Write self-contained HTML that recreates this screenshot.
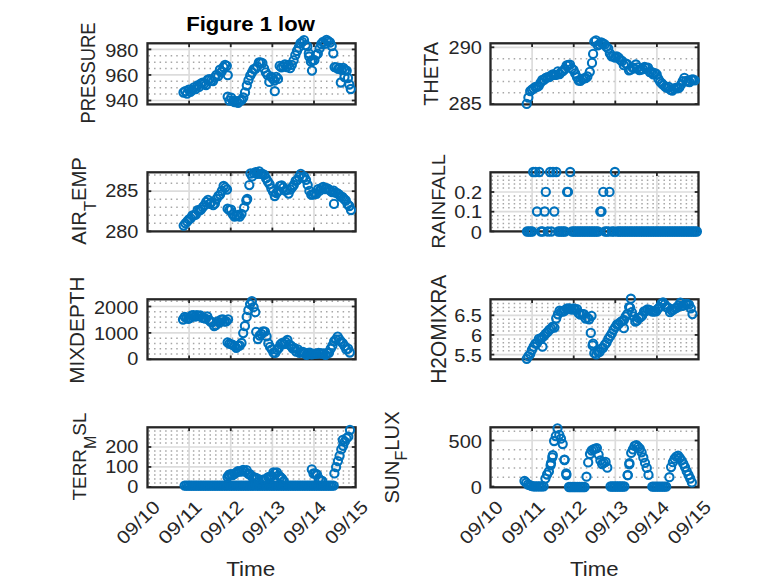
<!DOCTYPE html>
<html><head><meta charset="utf-8"><style>
html,body{margin:0;padding:0;width:778px;height:583px;overflow:hidden;background:#fff}
svg text{font-family:"Liberation Sans", sans-serif}
</style></head><body>
<svg width="778" height="583" viewBox="0 0 778 583" style="position:absolute;left:0;top:0"><rect width="778" height="583" fill="#fff"/><g><line x1="148.50" y1="94.11" x2="354.60" y2="94.11" stroke="#a6a6a6" stroke-width="1.5" stroke-dasharray="1.5 4.047"/><line x1="148.50" y1="87.72" x2="354.60" y2="87.72" stroke="#a6a6a6" stroke-width="1.5" stroke-dasharray="1.5 4.047"/><line x1="148.50" y1="81.34" x2="354.60" y2="81.34" stroke="#a6a6a6" stroke-width="1.5" stroke-dasharray="1.5 4.047"/><line x1="148.50" y1="68.56" x2="354.60" y2="68.56" stroke="#a6a6a6" stroke-width="1.5" stroke-dasharray="1.5 4.047"/><line x1="148.50" y1="62.17" x2="354.60" y2="62.17" stroke="#a6a6a6" stroke-width="1.5" stroke-dasharray="1.5 4.047"/><line x1="148.50" y1="55.79" x2="354.60" y2="55.79" stroke="#a6a6a6" stroke-width="1.5" stroke-dasharray="1.5 4.047"/><line x1="147.50" y1="100.50" x2="355.60" y2="100.50" stroke="#dcdcdc" stroke-width="1.7"/><line x1="147.50" y1="74.95" x2="355.60" y2="74.95" stroke="#dcdcdc" stroke-width="1.7"/><line x1="147.50" y1="49.40" x2="355.60" y2="49.40" stroke="#dcdcdc" stroke-width="1.7"/><line x1="189.12" y1="43.30" x2="189.12" y2="104.40" stroke="#dcdcdc" stroke-width="1.7"/><line x1="230.74" y1="43.30" x2="230.74" y2="104.40" stroke="#dcdcdc" stroke-width="1.7"/><line x1="272.36" y1="43.30" x2="272.36" y2="104.40" stroke="#dcdcdc" stroke-width="1.7"/><line x1="313.98" y1="43.30" x2="313.98" y2="104.40" stroke="#dcdcdc" stroke-width="1.7"/><line x1="147.50" y1="100.50" x2="151.30" y2="100.50" stroke="#262626" stroke-width="1.8"/><line x1="351.80" y1="100.50" x2="355.60" y2="100.50" stroke="#262626" stroke-width="1.8"/><line x1="147.50" y1="74.95" x2="151.30" y2="74.95" stroke="#262626" stroke-width="1.8"/><line x1="351.80" y1="74.95" x2="355.60" y2="74.95" stroke="#262626" stroke-width="1.8"/><line x1="147.50" y1="49.40" x2="151.30" y2="49.40" stroke="#262626" stroke-width="1.8"/><line x1="351.80" y1="49.40" x2="355.60" y2="49.40" stroke="#262626" stroke-width="1.8"/><line x1="189.12" y1="43.30" x2="189.12" y2="47.10" stroke="#262626" stroke-width="1.8"/><line x1="189.12" y1="100.60" x2="189.12" y2="104.40" stroke="#262626" stroke-width="1.8"/><line x1="230.74" y1="43.30" x2="230.74" y2="47.10" stroke="#262626" stroke-width="1.8"/><line x1="230.74" y1="100.60" x2="230.74" y2="104.40" stroke="#262626" stroke-width="1.8"/><line x1="272.36" y1="43.30" x2="272.36" y2="47.10" stroke="#262626" stroke-width="1.8"/><line x1="272.36" y1="100.60" x2="272.36" y2="104.40" stroke="#262626" stroke-width="1.8"/><line x1="313.98" y1="43.30" x2="313.98" y2="47.10" stroke="#262626" stroke-width="1.8"/><line x1="313.98" y1="100.60" x2="313.98" y2="104.40" stroke="#262626" stroke-width="1.8"/><rect x="147.50" y="43.30" width="208.10" height="61.10" fill="none" stroke="#262626" stroke-width="2.3"/><text transform="translate(105.19,107.41) scale(1.09,1)" font-size="18.3" fill="#262626">940</text><text transform="translate(105.19,81.86) scale(1.09,1)" font-size="18.3" fill="#262626">960</text><text transform="translate(105.19,56.51) scale(1.09,1)" font-size="18.3" fill="#262626">980</text><text transform="translate(94.80,123.57) rotate(-90) scale(0.8802,1)" font-size="20.86" fill="#262626">PRESSURE</text><g fill="none" stroke="#0072BD" stroke-width="2.1"><circle cx="183.5" cy="92.5" r="4.1"/><circle cx="185.2" cy="91.1" r="4.1"/><circle cx="187.0" cy="93.7" r="4.1"/><circle cx="188.7" cy="89.7" r="4.1"/><circle cx="190.4" cy="91.8" r="4.1"/><circle cx="192.2" cy="90.0" r="4.1"/><circle cx="193.9" cy="87.4" r="4.1"/><circle cx="195.6" cy="89.2" r="4.1"/><circle cx="197.4" cy="85.5" r="4.1"/><circle cx="199.1" cy="86.9" r="4.1"/><circle cx="200.8" cy="83.7" r="4.1"/><circle cx="202.6" cy="82.7" r="4.1"/><circle cx="204.3" cy="83.7" r="4.1"/><circle cx="206.0" cy="85.0" r="4.1"/><circle cx="207.8" cy="79.7" r="4.1"/><circle cx="209.5" cy="79.2" r="4.1"/><circle cx="211.2" cy="80.4" r="4.1"/><circle cx="213.0" cy="81.1" r="4.1"/><circle cx="214.7" cy="77.4" r="4.1"/><circle cx="216.4" cy="74.8" r="4.1"/><circle cx="218.2" cy="76.1" r="4.1"/><circle cx="219.9" cy="69.7" r="4.1"/><circle cx="221.6" cy="71.7" r="4.1"/><circle cx="223.4" cy="67.1" r="4.1"/><circle cx="225.1" cy="64.8" r="4.1"/><circle cx="226.8" cy="65.8" r="4.1"/><circle cx="227.7" cy="96.7" r="4.1"/><circle cx="229.4" cy="100.6" r="4.1"/><circle cx="231.2" cy="97.7" r="4.1"/><circle cx="232.9" cy="101.0" r="4.1"/><circle cx="234.6" cy="102.1" r="4.1"/><circle cx="236.4" cy="101.1" r="4.1"/><circle cx="238.1" cy="102.9" r="4.1"/><circle cx="239.8" cy="100.7" r="4.1"/><circle cx="241.6" cy="100.0" r="4.1"/><circle cx="243.3" cy="97.5" r="4.1"/><circle cx="245.0" cy="92.4" r="4.1"/><circle cx="246.8" cy="85.5" r="4.1"/><circle cx="248.5" cy="80.1" r="4.1"/><circle cx="250.2" cy="75.7" r="4.1"/><circle cx="252.0" cy="72.5" r="4.1"/><circle cx="253.7" cy="69.2" r="4.1"/><circle cx="255.4" cy="68.8" r="4.1"/><circle cx="257.2" cy="66.6" r="4.1"/><circle cx="258.9" cy="62.5" r="4.1"/><circle cx="260.6" cy="62.5" r="4.1"/><circle cx="262.4" cy="63.1" r="4.1"/><circle cx="264.1" cy="68.4" r="4.1"/><circle cx="265.8" cy="72.3" r="4.1"/><circle cx="267.6" cy="75.1" r="4.1"/><circle cx="269.3" cy="81.9" r="4.1"/><circle cx="271.0" cy="76.7" r="4.1"/><circle cx="272.8" cy="78.5" r="4.1"/><circle cx="274.5" cy="80.5" r="4.1"/><circle cx="276.2" cy="76.9" r="4.1"/><circle cx="278.0" cy="78.9" r="4.1"/><circle cx="279.7" cy="65.9" r="4.1"/><circle cx="281.4" cy="67.4" r="4.1"/><circle cx="283.2" cy="66.2" r="4.1"/><circle cx="284.9" cy="64.3" r="4.1"/><circle cx="286.6" cy="67.2" r="4.1"/><circle cx="288.4" cy="64.8" r="4.1"/><circle cx="290.1" cy="68.2" r="4.1"/><circle cx="291.8" cy="64.9" r="4.1"/><circle cx="293.6" cy="60.3" r="4.1"/><circle cx="295.3" cy="55.2" r="4.1"/><circle cx="297.0" cy="51.0" r="4.1"/><circle cx="298.8" cy="47.4" r="4.1"/><circle cx="300.5" cy="43.2" r="4.1"/><circle cx="302.2" cy="41.9" r="4.1"/><circle cx="304.0" cy="40.1" r="4.1"/><circle cx="305.7" cy="45.1" r="4.1"/><circle cx="307.4" cy="46.4" r="4.1"/><circle cx="308.8" cy="53.3" r="4.1"/><circle cx="309.2" cy="56.5" r="4.1"/><circle cx="310.9" cy="61.7" r="4.1"/><circle cx="312.6" cy="60.5" r="4.1"/><circle cx="314.4" cy="60.2" r="4.1"/><circle cx="316.1" cy="55.1" r="4.1"/><circle cx="317.8" cy="53.7" r="4.1"/><circle cx="319.6" cy="48.4" r="4.1"/><circle cx="321.3" cy="44.0" r="4.1"/><circle cx="323.0" cy="42.0" r="4.1"/><circle cx="324.8" cy="43.9" r="4.1"/><circle cx="326.5" cy="39.8" r="4.1"/><circle cx="328.2" cy="41.1" r="4.1"/><circle cx="330.0" cy="42.5" r="4.1"/><circle cx="331.7" cy="46.0" r="4.1"/><circle cx="333.3" cy="53.3" r="4.1"/><circle cx="334.6" cy="67.1" r="4.1"/><circle cx="336.3" cy="67.3" r="4.1"/><circle cx="338.1" cy="68.8" r="4.1"/><circle cx="339.8" cy="68.0" r="4.1"/><circle cx="341.5" cy="69.8" r="4.1"/><circle cx="343.3" cy="67.9" r="4.1"/><circle cx="345.0" cy="69.9" r="4.1"/><circle cx="346.7" cy="70.7" r="4.1"/><circle cx="227.8" cy="75.2" r="4.1"/><circle cx="274.8" cy="91.2" r="4.1"/><circle cx="312.0" cy="70.6" r="4.1"/><circle cx="340.8" cy="82.5" r="4.1"/><circle cx="344.5" cy="77.0" r="4.1"/><circle cx="348.0" cy="78.0" r="4.1"/><circle cx="349.3" cy="84.5" r="4.1"/><circle cx="350.8" cy="89.0" r="4.1"/></g></g><g><line x1="491.50" y1="92.74" x2="697.50" y2="92.74" stroke="#a6a6a6" stroke-width="1.5" stroke-dasharray="1.5 4.047"/><line x1="491.50" y1="81.38" x2="697.50" y2="81.38" stroke="#a6a6a6" stroke-width="1.5" stroke-dasharray="1.5 4.047"/><line x1="491.50" y1="70.02" x2="697.50" y2="70.02" stroke="#a6a6a6" stroke-width="1.5" stroke-dasharray="1.5 4.047"/><line x1="491.50" y1="58.66" x2="697.50" y2="58.66" stroke="#a6a6a6" stroke-width="1.5" stroke-dasharray="1.5 4.047"/><line x1="490.50" y1="47.30" x2="698.50" y2="47.30" stroke="#dcdcdc" stroke-width="1.7"/><line x1="532.10" y1="43.30" x2="532.10" y2="104.40" stroke="#dcdcdc" stroke-width="1.7"/><line x1="573.70" y1="43.30" x2="573.70" y2="104.40" stroke="#dcdcdc" stroke-width="1.7"/><line x1="615.30" y1="43.30" x2="615.30" y2="104.40" stroke="#dcdcdc" stroke-width="1.7"/><line x1="656.90" y1="43.30" x2="656.90" y2="104.40" stroke="#dcdcdc" stroke-width="1.7"/><line x1="490.50" y1="104.10" x2="494.30" y2="104.10" stroke="#262626" stroke-width="1.8"/><line x1="694.70" y1="104.10" x2="698.50" y2="104.10" stroke="#262626" stroke-width="1.8"/><line x1="490.50" y1="47.30" x2="494.30" y2="47.30" stroke="#262626" stroke-width="1.8"/><line x1="694.70" y1="47.30" x2="698.50" y2="47.30" stroke="#262626" stroke-width="1.8"/><line x1="532.10" y1="43.30" x2="532.10" y2="47.10" stroke="#262626" stroke-width="1.8"/><line x1="532.10" y1="100.60" x2="532.10" y2="104.40" stroke="#262626" stroke-width="1.8"/><line x1="573.70" y1="43.30" x2="573.70" y2="47.10" stroke="#262626" stroke-width="1.8"/><line x1="573.70" y1="100.60" x2="573.70" y2="104.40" stroke="#262626" stroke-width="1.8"/><line x1="615.30" y1="43.30" x2="615.30" y2="47.10" stroke="#262626" stroke-width="1.8"/><line x1="615.30" y1="100.60" x2="615.30" y2="104.40" stroke="#262626" stroke-width="1.8"/><line x1="656.90" y1="43.30" x2="656.90" y2="47.10" stroke="#262626" stroke-width="1.8"/><line x1="656.90" y1="100.60" x2="656.90" y2="104.40" stroke="#262626" stroke-width="1.8"/><rect x="490.50" y="43.30" width="208.00" height="61.10" fill="none" stroke="#262626" stroke-width="2.3"/><text transform="translate(448.59,110.31) scale(1.09,1)" font-size="18.3" fill="#262626">285</text><text transform="translate(448.59,53.86) scale(1.09,1)" font-size="18.3" fill="#262626">290</text><text transform="translate(437.90,105.80) rotate(-90) scale(0.9674,1)" font-size="20.58" fill="#262626">THETA</text><g fill="none" stroke="#0072BD" stroke-width="2.1"><circle cx="526.7" cy="103.9" r="4.1"/><circle cx="528.4" cy="97.5" r="4.1"/><circle cx="530.2" cy="91.1" r="4.1"/><circle cx="531.9" cy="89.7" r="4.1"/><circle cx="533.6" cy="88.5" r="4.1"/><circle cx="535.4" cy="87.0" r="4.1"/><circle cx="537.1" cy="86.8" r="4.1"/><circle cx="538.8" cy="85.8" r="4.1"/><circle cx="540.6" cy="82.7" r="4.1"/><circle cx="542.3" cy="79.8" r="4.1"/><circle cx="544.0" cy="79.9" r="4.1"/><circle cx="545.8" cy="78.0" r="4.1"/><circle cx="547.5" cy="77.1" r="4.1"/><circle cx="549.2" cy="77.1" r="4.1"/><circle cx="551.0" cy="75.7" r="4.1"/><circle cx="552.7" cy="74.5" r="4.1"/><circle cx="554.4" cy="74.8" r="4.1"/><circle cx="556.2" cy="74.8" r="4.1"/><circle cx="557.9" cy="71.3" r="4.1"/><circle cx="559.6" cy="74.0" r="4.1"/><circle cx="561.4" cy="71.9" r="4.1"/><circle cx="563.1" cy="70.9" r="4.1"/><circle cx="564.8" cy="69.0" r="4.1"/><circle cx="566.6" cy="65.5" r="4.1"/><circle cx="568.3" cy="65.0" r="4.1"/><circle cx="570.0" cy="64.6" r="4.1"/><circle cx="571.8" cy="68.6" r="4.1"/><circle cx="573.5" cy="70.0" r="4.1"/><circle cx="575.2" cy="73.4" r="4.1"/><circle cx="577.0" cy="77.2" r="4.1"/><circle cx="578.7" cy="80.5" r="4.1"/><circle cx="580.4" cy="80.8" r="4.1"/><circle cx="582.2" cy="79.0" r="4.1"/><circle cx="583.9" cy="78.3" r="4.1"/><circle cx="585.6" cy="78.2" r="4.1"/><circle cx="587.4" cy="76.5" r="4.1"/><circle cx="594.3" cy="41.6" r="4.1"/><circle cx="596.0" cy="40.3" r="4.1"/><circle cx="597.8" cy="45.3" r="4.1"/><circle cx="599.5" cy="44.4" r="4.1"/><circle cx="601.2" cy="42.5" r="4.1"/><circle cx="603.0" cy="43.5" r="4.1"/><circle cx="604.7" cy="44.5" r="4.1"/><circle cx="606.4" cy="46.9" r="4.1"/><circle cx="608.2" cy="48.5" r="4.1"/><circle cx="609.9" cy="53.4" r="4.1"/><circle cx="611.6" cy="56.3" r="4.1"/><circle cx="613.4" cy="56.4" r="4.1"/><circle cx="615.1" cy="57.5" r="4.1"/><circle cx="616.8" cy="56.5" r="4.1"/><circle cx="618.6" cy="57.6" r="4.1"/><circle cx="620.3" cy="59.9" r="4.1"/><circle cx="622.0" cy="61.0" r="4.1"/><circle cx="623.8" cy="65.2" r="4.1"/><circle cx="625.5" cy="63.4" r="4.1"/><circle cx="627.2" cy="64.2" r="4.1"/><circle cx="629.0" cy="70.3" r="4.1"/><circle cx="630.7" cy="69.7" r="4.1"/><circle cx="632.4" cy="67.5" r="4.1"/><circle cx="634.2" cy="68.4" r="4.1"/><circle cx="635.9" cy="64.5" r="4.1"/><circle cx="637.6" cy="67.4" r="4.1"/><circle cx="639.4" cy="70.0" r="4.1"/><circle cx="641.1" cy="69.7" r="4.1"/><circle cx="642.8" cy="69.0" r="4.1"/><circle cx="644.6" cy="67.0" r="4.1"/><circle cx="646.3" cy="67.8" r="4.1"/><circle cx="648.0" cy="67.7" r="4.1"/><circle cx="649.8" cy="72.0" r="4.1"/><circle cx="651.5" cy="71.9" r="4.1"/><circle cx="653.2" cy="74.3" r="4.1"/><circle cx="655.0" cy="73.1" r="4.1"/><circle cx="656.7" cy="74.5" r="4.1"/><circle cx="658.4" cy="78.9" r="4.1"/><circle cx="660.2" cy="81.8" r="4.1"/><circle cx="661.9" cy="83.5" r="4.1"/><circle cx="663.6" cy="85.2" r="4.1"/><circle cx="665.4" cy="86.8" r="4.1"/><circle cx="667.1" cy="87.9" r="4.1"/><circle cx="668.8" cy="86.8" r="4.1"/><circle cx="670.6" cy="89.8" r="4.1"/><circle cx="672.3" cy="90.5" r="4.1"/><circle cx="674.0" cy="88.7" r="4.1"/><circle cx="675.8" cy="87.8" r="4.1"/><circle cx="677.5" cy="88.3" r="4.1"/><circle cx="679.2" cy="87.7" r="4.1"/><circle cx="681.0" cy="84.7" r="4.1"/><circle cx="682.7" cy="81.2" r="4.1"/><circle cx="684.4" cy="77.8" r="4.1"/><circle cx="686.2" cy="80.9" r="4.1"/><circle cx="687.9" cy="81.7" r="4.1"/><circle cx="689.6" cy="82.1" r="4.1"/><circle cx="691.4" cy="79.7" r="4.1"/><circle cx="693.1" cy="79.5" r="4.1"/><circle cx="694.8" cy="80.4" r="4.1"/><circle cx="589.8" cy="71.8" r="4.1"/><circle cx="592.0" cy="62.9" r="4.1"/><circle cx="593.1" cy="53.9" r="4.1"/></g></g><g><line x1="148.50" y1="223.36" x2="354.60" y2="223.36" stroke="#a6a6a6" stroke-width="1.5" stroke-dasharray="1.5 4.047"/><line x1="148.50" y1="215.32" x2="354.60" y2="215.32" stroke="#a6a6a6" stroke-width="1.5" stroke-dasharray="1.5 4.047"/><line x1="148.50" y1="207.28" x2="354.60" y2="207.28" stroke="#a6a6a6" stroke-width="1.5" stroke-dasharray="1.5 4.047"/><line x1="148.50" y1="199.24" x2="354.60" y2="199.24" stroke="#a6a6a6" stroke-width="1.5" stroke-dasharray="1.5 4.047"/><line x1="148.50" y1="183.16" x2="354.60" y2="183.16" stroke="#a6a6a6" stroke-width="1.5" stroke-dasharray="1.5 4.047"/><line x1="148.50" y1="175.12" x2="354.60" y2="175.12" stroke="#a6a6a6" stroke-width="1.5" stroke-dasharray="1.5 4.047"/><line x1="147.50" y1="191.20" x2="355.60" y2="191.20" stroke="#dcdcdc" stroke-width="1.7"/><line x1="189.12" y1="172.30" x2="189.12" y2="231.40" stroke="#dcdcdc" stroke-width="1.7"/><line x1="230.74" y1="172.30" x2="230.74" y2="231.40" stroke="#dcdcdc" stroke-width="1.7"/><line x1="272.36" y1="172.30" x2="272.36" y2="231.40" stroke="#dcdcdc" stroke-width="1.7"/><line x1="313.98" y1="172.30" x2="313.98" y2="231.40" stroke="#dcdcdc" stroke-width="1.7"/><line x1="147.50" y1="231.40" x2="151.30" y2="231.40" stroke="#262626" stroke-width="1.8"/><line x1="351.80" y1="231.40" x2="355.60" y2="231.40" stroke="#262626" stroke-width="1.8"/><line x1="147.50" y1="191.20" x2="151.30" y2="191.20" stroke="#262626" stroke-width="1.8"/><line x1="351.80" y1="191.20" x2="355.60" y2="191.20" stroke="#262626" stroke-width="1.8"/><line x1="189.12" y1="172.30" x2="189.12" y2="176.10" stroke="#262626" stroke-width="1.8"/><line x1="189.12" y1="227.60" x2="189.12" y2="231.40" stroke="#262626" stroke-width="1.8"/><line x1="230.74" y1="172.30" x2="230.74" y2="176.10" stroke="#262626" stroke-width="1.8"/><line x1="230.74" y1="227.60" x2="230.74" y2="231.40" stroke="#262626" stroke-width="1.8"/><line x1="272.36" y1="172.30" x2="272.36" y2="176.10" stroke="#262626" stroke-width="1.8"/><line x1="272.36" y1="227.60" x2="272.36" y2="231.40" stroke="#262626" stroke-width="1.8"/><line x1="313.98" y1="172.30" x2="313.98" y2="176.10" stroke="#262626" stroke-width="1.8"/><line x1="313.98" y1="227.60" x2="313.98" y2="231.40" stroke="#262626" stroke-width="1.8"/><rect x="147.50" y="172.30" width="208.10" height="59.10" fill="none" stroke="#262626" stroke-width="2.3"/><text transform="translate(105.19,238.31) scale(1.09,1)" font-size="18.3" fill="#262626">280</text><text transform="translate(105.19,197.41) scale(1.09,1)" font-size="18.3" fill="#262626">285</text><text transform="translate(86.00,244.80) rotate(-90) scale(1.0255,1)" font-size="19.71" fill="#262626">AIR<tspan font-size="16.20" dy="9.50">T</tspan><tspan dy="-9.50" font-size="19.71">EMP</tspan></text><g fill="none" stroke="#0072BD" stroke-width="2.1"><circle cx="183.7" cy="225.6" r="4.1"/><circle cx="185.4" cy="223.3" r="4.1"/><circle cx="187.2" cy="221.5" r="4.1"/><circle cx="188.9" cy="219.3" r="4.1"/><circle cx="190.6" cy="218.4" r="4.1"/><circle cx="192.4" cy="215.4" r="4.1"/><circle cx="194.1" cy="215.1" r="4.1"/><circle cx="195.8" cy="214.7" r="4.1"/><circle cx="197.6" cy="210.2" r="4.1"/><circle cx="199.3" cy="210.6" r="4.1"/><circle cx="201.0" cy="209.6" r="4.1"/><circle cx="202.8" cy="207.2" r="4.1"/><circle cx="204.5" cy="205.1" r="4.1"/><circle cx="206.2" cy="202.0" r="4.1"/><circle cx="208.0" cy="199.9" r="4.1"/><circle cx="209.7" cy="203.8" r="4.1"/><circle cx="211.4" cy="202.1" r="4.1"/><circle cx="213.2" cy="205.2" r="4.1"/><circle cx="214.9" cy="203.6" r="4.1"/><circle cx="216.6" cy="198.9" r="4.1"/><circle cx="218.4" cy="195.9" r="4.1"/><circle cx="220.1" cy="194.6" r="4.1"/><circle cx="221.8" cy="190.9" r="4.1"/><circle cx="223.6" cy="186.0" r="4.1"/><circle cx="225.3" cy="187.6" r="4.1"/><circle cx="227.0" cy="189.5" r="4.1"/><circle cx="227.6" cy="208.7" r="4.1"/><circle cx="229.3" cy="210.1" r="4.1"/><circle cx="231.1" cy="209.6" r="4.1"/><circle cx="232.8" cy="214.3" r="4.1"/><circle cx="234.5" cy="216.6" r="4.1"/><circle cx="236.3" cy="215.9" r="4.1"/><circle cx="238.0" cy="215.0" r="4.1"/><circle cx="239.7" cy="216.5" r="4.1"/><circle cx="241.5" cy="213.8" r="4.1"/><circle cx="250.5" cy="173.5" r="4.1"/><circle cx="252.2" cy="176.4" r="4.1"/><circle cx="254.0" cy="173.2" r="4.1"/><circle cx="255.7" cy="172.2" r="4.1"/><circle cx="257.4" cy="173.9" r="4.1"/><circle cx="259.2" cy="171.4" r="4.1"/><circle cx="260.9" cy="173.9" r="4.1"/><circle cx="262.6" cy="174.0" r="4.1"/><circle cx="264.4" cy="174.8" r="4.1"/><circle cx="266.1" cy="178.4" r="4.1"/><circle cx="267.8" cy="181.5" r="4.1"/><circle cx="269.6" cy="184.2" r="4.1"/><circle cx="271.3" cy="188.3" r="4.1"/><circle cx="273.0" cy="191.6" r="4.1"/><circle cx="274.8" cy="196.0" r="4.1"/><circle cx="276.5" cy="193.0" r="4.1"/><circle cx="278.2" cy="191.0" r="4.1"/><circle cx="280.0" cy="185.8" r="4.1"/><circle cx="281.7" cy="185.4" r="4.1"/><circle cx="283.4" cy="187.5" r="4.1"/><circle cx="285.2" cy="190.6" r="4.1"/><circle cx="286.9" cy="189.6" r="4.1"/><circle cx="288.6" cy="193.6" r="4.1"/><circle cx="290.4" cy="189.5" r="4.1"/><circle cx="292.1" cy="187.3" r="4.1"/><circle cx="293.8" cy="185.0" r="4.1"/><circle cx="295.6" cy="180.9" r="4.1"/><circle cx="297.3" cy="180.1" r="4.1"/><circle cx="299.0" cy="176.8" r="4.1"/><circle cx="300.8" cy="173.9" r="4.1"/><circle cx="302.5" cy="177.7" r="4.1"/><circle cx="304.2" cy="176.7" r="4.1"/><circle cx="306.0" cy="179.8" r="4.1"/><circle cx="307.7" cy="184.9" r="4.1"/><circle cx="309.4" cy="190.9" r="4.1"/><circle cx="311.2" cy="194.6" r="4.1"/><circle cx="312.9" cy="194.5" r="4.1"/><circle cx="314.6" cy="193.7" r="4.1"/><circle cx="316.4" cy="193.8" r="4.1"/><circle cx="318.1" cy="189.2" r="4.1"/><circle cx="319.8" cy="190.6" r="4.1"/><circle cx="321.6" cy="187.9" r="4.1"/><circle cx="323.3" cy="187.0" r="4.1"/><circle cx="325.0" cy="189.0" r="4.1"/><circle cx="326.8" cy="188.2" r="4.1"/><circle cx="328.5" cy="189.1" r="4.1"/><circle cx="330.2" cy="190.7" r="4.1"/><circle cx="332.0" cy="192.1" r="4.1"/><circle cx="333.7" cy="190.6" r="4.1"/><circle cx="335.4" cy="192.6" r="4.1"/><circle cx="337.2" cy="193.2" r="4.1"/><circle cx="338.9" cy="194.4" r="4.1"/><circle cx="340.6" cy="196.5" r="4.1"/><circle cx="342.4" cy="196.9" r="4.1"/><circle cx="344.1" cy="199.0" r="4.1"/><circle cx="345.8" cy="200.5" r="4.1"/><circle cx="347.6" cy="204.3" r="4.1"/><circle cx="349.3" cy="206.0" r="4.1"/><circle cx="351.0" cy="210.0" r="4.1"/><circle cx="334.0" cy="203.9" r="4.1"/><circle cx="244.1" cy="207.7" r="4.1"/><circle cx="247.2" cy="199.0" r="4.1"/><circle cx="246.3" cy="200.5" r="4.1"/><circle cx="249.3" cy="185.1" r="4.1"/></g></g><g><line x1="491.50" y1="227.46" x2="697.50" y2="227.46" stroke="#a6a6a6" stroke-width="1.5" stroke-dasharray="1.5 4.047"/><line x1="491.50" y1="223.52" x2="697.50" y2="223.52" stroke="#a6a6a6" stroke-width="1.5" stroke-dasharray="1.5 4.047"/><line x1="491.50" y1="219.58" x2="697.50" y2="219.58" stroke="#a6a6a6" stroke-width="1.5" stroke-dasharray="1.5 4.047"/><line x1="491.50" y1="215.64" x2="697.50" y2="215.64" stroke="#a6a6a6" stroke-width="1.5" stroke-dasharray="1.5 4.047"/><line x1="491.50" y1="207.76" x2="697.50" y2="207.76" stroke="#a6a6a6" stroke-width="1.5" stroke-dasharray="1.5 4.047"/><line x1="491.50" y1="203.82" x2="697.50" y2="203.82" stroke="#a6a6a6" stroke-width="1.5" stroke-dasharray="1.5 4.047"/><line x1="491.50" y1="199.88" x2="697.50" y2="199.88" stroke="#a6a6a6" stroke-width="1.5" stroke-dasharray="1.5 4.047"/><line x1="491.50" y1="195.94" x2="697.50" y2="195.94" stroke="#a6a6a6" stroke-width="1.5" stroke-dasharray="1.5 4.047"/><line x1="491.50" y1="188.06" x2="697.50" y2="188.06" stroke="#a6a6a6" stroke-width="1.5" stroke-dasharray="1.5 4.047"/><line x1="491.50" y1="184.12" x2="697.50" y2="184.12" stroke="#a6a6a6" stroke-width="1.5" stroke-dasharray="1.5 4.047"/><line x1="491.50" y1="180.18" x2="697.50" y2="180.18" stroke="#a6a6a6" stroke-width="1.5" stroke-dasharray="1.5 4.047"/><line x1="491.50" y1="176.24" x2="697.50" y2="176.24" stroke="#a6a6a6" stroke-width="1.5" stroke-dasharray="1.5 4.047"/><line x1="490.50" y1="211.70" x2="698.50" y2="211.70" stroke="#dcdcdc" stroke-width="1.7"/><line x1="490.50" y1="192.00" x2="698.50" y2="192.00" stroke="#dcdcdc" stroke-width="1.7"/><line x1="532.10" y1="172.30" x2="532.10" y2="231.40" stroke="#dcdcdc" stroke-width="1.7"/><line x1="573.70" y1="172.30" x2="573.70" y2="231.40" stroke="#dcdcdc" stroke-width="1.7"/><line x1="615.30" y1="172.30" x2="615.30" y2="231.40" stroke="#dcdcdc" stroke-width="1.7"/><line x1="656.90" y1="172.30" x2="656.90" y2="231.40" stroke="#dcdcdc" stroke-width="1.7"/><line x1="490.50" y1="231.40" x2="494.30" y2="231.40" stroke="#262626" stroke-width="1.8"/><line x1="694.70" y1="231.40" x2="698.50" y2="231.40" stroke="#262626" stroke-width="1.8"/><line x1="490.50" y1="211.70" x2="494.30" y2="211.70" stroke="#262626" stroke-width="1.8"/><line x1="694.70" y1="211.70" x2="698.50" y2="211.70" stroke="#262626" stroke-width="1.8"/><line x1="490.50" y1="192.00" x2="494.30" y2="192.00" stroke="#262626" stroke-width="1.8"/><line x1="694.70" y1="192.00" x2="698.50" y2="192.00" stroke="#262626" stroke-width="1.8"/><line x1="532.10" y1="172.30" x2="532.10" y2="176.10" stroke="#262626" stroke-width="1.8"/><line x1="532.10" y1="227.60" x2="532.10" y2="231.40" stroke="#262626" stroke-width="1.8"/><line x1="573.70" y1="172.30" x2="573.70" y2="176.10" stroke="#262626" stroke-width="1.8"/><line x1="573.70" y1="227.60" x2="573.70" y2="231.40" stroke="#262626" stroke-width="1.8"/><line x1="615.30" y1="172.30" x2="615.30" y2="176.10" stroke="#262626" stroke-width="1.8"/><line x1="615.30" y1="227.60" x2="615.30" y2="231.40" stroke="#262626" stroke-width="1.8"/><line x1="656.90" y1="172.30" x2="656.90" y2="176.10" stroke="#262626" stroke-width="1.8"/><line x1="656.90" y1="227.60" x2="656.90" y2="231.40" stroke="#262626" stroke-width="1.8"/><rect x="490.50" y="172.30" width="208.00" height="59.10" fill="none" stroke="#262626" stroke-width="2.3"/><text transform="translate(470.73,238.71) scale(1.09,1)" font-size="18.3" fill="#262626">0</text><text transform="translate(454.37,217.71) scale(1.09,1)" font-size="18.3" fill="#262626">0.1</text><text transform="translate(454.37,199.31) scale(1.09,1)" font-size="18.3" fill="#262626">0.2</text><text transform="translate(444.50,248.71) rotate(-90) scale(1.0485,1)" font-size="19.14" fill="#262626">RAINFALL</text><g fill="none" stroke="#0072BD" stroke-width="2.1"><circle cx="527.0" cy="231.5" r="4.1"/><circle cx="528.7" cy="231.5" r="4.1"/><circle cx="530.5" cy="231.5" r="4.1"/><circle cx="532.2" cy="231.5" r="4.1"/><circle cx="540.9" cy="231.5" r="4.1"/><circle cx="542.6" cy="231.5" r="4.1"/><circle cx="547.8" cy="231.5" r="4.1"/><circle cx="551.3" cy="231.5" r="4.1"/><circle cx="558.2" cy="231.5" r="4.1"/><circle cx="559.9" cy="231.5" r="4.1"/><circle cx="561.7" cy="231.5" r="4.1"/><circle cx="563.4" cy="231.5" r="4.1"/><circle cx="565.1" cy="231.5" r="4.1"/><circle cx="572.1" cy="231.5" r="4.1"/><circle cx="573.8" cy="231.5" r="4.1"/><circle cx="575.5" cy="231.5" r="4.1"/><circle cx="577.3" cy="231.5" r="4.1"/><circle cx="579.0" cy="231.5" r="4.1"/><circle cx="580.7" cy="231.5" r="4.1"/><circle cx="582.5" cy="231.5" r="4.1"/><circle cx="584.2" cy="231.5" r="4.1"/><circle cx="585.9" cy="231.5" r="4.1"/><circle cx="587.7" cy="231.5" r="4.1"/><circle cx="589.4" cy="231.5" r="4.1"/><circle cx="591.1" cy="231.5" r="4.1"/><circle cx="592.9" cy="231.5" r="4.1"/><circle cx="594.6" cy="231.5" r="4.1"/><circle cx="596.3" cy="231.5" r="4.1"/><circle cx="598.1" cy="231.5" r="4.1"/><circle cx="605.0" cy="231.5" r="4.1"/><circle cx="606.7" cy="231.5" r="4.1"/><circle cx="608.5" cy="231.5" r="4.1"/><circle cx="611.9" cy="231.5" r="4.1"/><circle cx="613.7" cy="231.5" r="4.1"/><circle cx="617.1" cy="231.5" r="4.1"/><circle cx="618.9" cy="231.5" r="4.1"/><circle cx="620.6" cy="231.5" r="4.1"/><circle cx="622.3" cy="231.5" r="4.1"/><circle cx="624.1" cy="231.5" r="4.1"/><circle cx="625.8" cy="231.5" r="4.1"/><circle cx="627.5" cy="231.5" r="4.1"/><circle cx="629.3" cy="231.5" r="4.1"/><circle cx="631.0" cy="231.5" r="4.1"/><circle cx="632.7" cy="231.5" r="4.1"/><circle cx="634.5" cy="231.5" r="4.1"/><circle cx="636.2" cy="231.5" r="4.1"/><circle cx="637.9" cy="231.5" r="4.1"/><circle cx="639.7" cy="231.5" r="4.1"/><circle cx="641.4" cy="231.5" r="4.1"/><circle cx="643.1" cy="231.5" r="4.1"/><circle cx="644.9" cy="231.5" r="4.1"/><circle cx="646.6" cy="231.5" r="4.1"/><circle cx="648.3" cy="231.5" r="4.1"/><circle cx="650.1" cy="231.5" r="4.1"/><circle cx="651.8" cy="231.5" r="4.1"/><circle cx="653.5" cy="231.5" r="4.1"/><circle cx="655.3" cy="231.5" r="4.1"/><circle cx="657.0" cy="231.5" r="4.1"/><circle cx="658.7" cy="231.5" r="4.1"/><circle cx="660.5" cy="231.5" r="4.1"/><circle cx="662.2" cy="231.5" r="4.1"/><circle cx="663.9" cy="231.5" r="4.1"/><circle cx="665.7" cy="231.5" r="4.1"/><circle cx="667.4" cy="231.5" r="4.1"/><circle cx="669.1" cy="231.5" r="4.1"/><circle cx="670.9" cy="231.5" r="4.1"/><circle cx="672.6" cy="231.5" r="4.1"/><circle cx="674.3" cy="231.5" r="4.1"/><circle cx="676.1" cy="231.5" r="4.1"/><circle cx="677.8" cy="231.5" r="4.1"/><circle cx="679.5" cy="231.5" r="4.1"/><circle cx="681.3" cy="231.5" r="4.1"/><circle cx="683.0" cy="231.5" r="4.1"/><circle cx="684.7" cy="231.5" r="4.1"/><circle cx="686.5" cy="231.5" r="4.1"/><circle cx="688.2" cy="231.5" r="4.1"/><circle cx="689.9" cy="231.5" r="4.1"/><circle cx="691.7" cy="231.5" r="4.1"/><circle cx="693.4" cy="231.5" r="4.1"/><circle cx="695.1" cy="231.5" r="4.1"/><circle cx="696.9" cy="231.5" r="4.1"/><circle cx="533.2" cy="172.0" r="4.1"/><circle cx="535.5" cy="172.0" r="4.1"/><circle cx="539.3" cy="172.0" r="4.1"/><circle cx="550.1" cy="172.0" r="4.1"/><circle cx="553.0" cy="172.0" r="4.1"/><circle cx="556.3" cy="172.0" r="4.1"/><circle cx="570.2" cy="172.0" r="4.1"/><circle cx="614.9" cy="172.0" r="4.1"/><circle cx="545.8" cy="191.9" r="4.1"/><circle cx="567.1" cy="191.9" r="4.1"/><circle cx="568.0" cy="191.9" r="4.1"/><circle cx="603.3" cy="191.9" r="4.1"/><circle cx="609.5" cy="191.9" r="4.1"/><circle cx="537.0" cy="211.5" r="4.1"/><circle cx="544.7" cy="211.5" r="4.1"/><circle cx="554.3" cy="211.5" r="4.1"/><circle cx="600.3" cy="211.5" r="4.1"/><circle cx="601.5" cy="211.5" r="4.1"/></g></g><g><line x1="148.50" y1="354.02" x2="354.60" y2="354.02" stroke="#a6a6a6" stroke-width="1.5" stroke-dasharray="1.5 4.047"/><line x1="148.50" y1="348.74" x2="354.60" y2="348.74" stroke="#a6a6a6" stroke-width="1.5" stroke-dasharray="1.5 4.047"/><line x1="148.50" y1="343.46" x2="354.60" y2="343.46" stroke="#a6a6a6" stroke-width="1.5" stroke-dasharray="1.5 4.047"/><line x1="148.50" y1="338.18" x2="354.60" y2="338.18" stroke="#a6a6a6" stroke-width="1.5" stroke-dasharray="1.5 4.047"/><line x1="148.50" y1="327.62" x2="354.60" y2="327.62" stroke="#a6a6a6" stroke-width="1.5" stroke-dasharray="1.5 4.047"/><line x1="148.50" y1="322.34" x2="354.60" y2="322.34" stroke="#a6a6a6" stroke-width="1.5" stroke-dasharray="1.5 4.047"/><line x1="148.50" y1="317.06" x2="354.60" y2="317.06" stroke="#a6a6a6" stroke-width="1.5" stroke-dasharray="1.5 4.047"/><line x1="148.50" y1="311.78" x2="354.60" y2="311.78" stroke="#a6a6a6" stroke-width="1.5" stroke-dasharray="1.5 4.047"/><line x1="148.50" y1="301.22" x2="354.60" y2="301.22" stroke="#a6a6a6" stroke-width="1.5" stroke-dasharray="1.5 4.047"/><line x1="147.50" y1="332.90" x2="355.60" y2="332.90" stroke="#dcdcdc" stroke-width="1.7"/><line x1="147.50" y1="306.50" x2="355.60" y2="306.50" stroke="#dcdcdc" stroke-width="1.7"/><line x1="189.12" y1="299.30" x2="189.12" y2="359.30" stroke="#dcdcdc" stroke-width="1.7"/><line x1="230.74" y1="299.30" x2="230.74" y2="359.30" stroke="#dcdcdc" stroke-width="1.7"/><line x1="272.36" y1="299.30" x2="272.36" y2="359.30" stroke="#dcdcdc" stroke-width="1.7"/><line x1="313.98" y1="299.30" x2="313.98" y2="359.30" stroke="#dcdcdc" stroke-width="1.7"/><line x1="147.50" y1="359.30" x2="151.30" y2="359.30" stroke="#262626" stroke-width="1.8"/><line x1="351.80" y1="359.30" x2="355.60" y2="359.30" stroke="#262626" stroke-width="1.8"/><line x1="147.50" y1="332.90" x2="151.30" y2="332.90" stroke="#262626" stroke-width="1.8"/><line x1="351.80" y1="332.90" x2="355.60" y2="332.90" stroke="#262626" stroke-width="1.8"/><line x1="147.50" y1="306.50" x2="151.30" y2="306.50" stroke="#262626" stroke-width="1.8"/><line x1="351.80" y1="306.50" x2="355.60" y2="306.50" stroke="#262626" stroke-width="1.8"/><line x1="189.12" y1="299.30" x2="189.12" y2="303.10" stroke="#262626" stroke-width="1.8"/><line x1="189.12" y1="355.50" x2="189.12" y2="359.30" stroke="#262626" stroke-width="1.8"/><line x1="230.74" y1="299.30" x2="230.74" y2="303.10" stroke="#262626" stroke-width="1.8"/><line x1="230.74" y1="355.50" x2="230.74" y2="359.30" stroke="#262626" stroke-width="1.8"/><line x1="272.36" y1="299.30" x2="272.36" y2="303.10" stroke="#262626" stroke-width="1.8"/><line x1="272.36" y1="355.50" x2="272.36" y2="359.30" stroke="#262626" stroke-width="1.8"/><line x1="313.98" y1="299.30" x2="313.98" y2="303.10" stroke="#262626" stroke-width="1.8"/><line x1="313.98" y1="355.50" x2="313.98" y2="359.30" stroke="#262626" stroke-width="1.8"/><rect x="147.50" y="299.30" width="208.10" height="60.00" fill="none" stroke="#262626" stroke-width="2.3"/><text transform="translate(127.33,365.41) scale(1.09,1)" font-size="18.3" fill="#262626">0</text><text transform="translate(94.02,339.61) scale(1.09,1)" font-size="18.3" fill="#262626">1000</text><text transform="translate(94.02,314.11) scale(1.09,1)" font-size="18.3" fill="#262626">2000</text><text transform="translate(83.60,383.76) rotate(-90) scale(1.0599,1)" font-size="19.57" fill="#262626">MIXDEPTH</text><g fill="none" stroke="#0072BD" stroke-width="2.1"><circle cx="183.0" cy="319.5" r="4.1"/><circle cx="184.7" cy="316.8" r="4.1"/><circle cx="186.5" cy="317.7" r="4.1"/><circle cx="188.2" cy="318.8" r="4.1"/><circle cx="189.9" cy="318.2" r="4.1"/><circle cx="191.7" cy="315.5" r="4.1"/><circle cx="193.4" cy="315.2" r="4.1"/><circle cx="195.1" cy="316.5" r="4.1"/><circle cx="196.9" cy="315.2" r="4.1"/><circle cx="198.6" cy="315.9" r="4.1"/><circle cx="200.3" cy="315.4" r="4.1"/><circle cx="202.1" cy="317.6" r="4.1"/><circle cx="203.8" cy="318.1" r="4.1"/><circle cx="205.5" cy="318.6" r="4.1"/><circle cx="207.3" cy="316.5" r="4.1"/><circle cx="209.0" cy="320.0" r="4.1"/><circle cx="210.7" cy="321.8" r="4.1"/><circle cx="212.5" cy="322.2" r="4.1"/><circle cx="214.2" cy="326.0" r="4.1"/><circle cx="215.9" cy="325.1" r="4.1"/><circle cx="217.7" cy="321.3" r="4.1"/><circle cx="219.4" cy="322.7" r="4.1"/><circle cx="221.1" cy="319.6" r="4.1"/><circle cx="222.9" cy="319.4" r="4.1"/><circle cx="224.6" cy="321.6" r="4.1"/><circle cx="226.3" cy="321.4" r="4.1"/><circle cx="228.1" cy="319.3" r="4.1"/><circle cx="227.6" cy="342.4" r="4.1"/><circle cx="229.3" cy="343.7" r="4.1"/><circle cx="231.1" cy="344.2" r="4.1"/><circle cx="232.8" cy="344.8" r="4.1"/><circle cx="234.5" cy="345.8" r="4.1"/><circle cx="236.3" cy="347.8" r="4.1"/><circle cx="238.0" cy="345.8" r="4.1"/><circle cx="239.7" cy="345.5" r="4.1"/><circle cx="241.5" cy="343.0" r="4.1"/><circle cx="243.2" cy="333.1" r="4.1"/><circle cx="244.9" cy="326.0" r="4.1"/><circle cx="246.7" cy="316.9" r="4.1"/><circle cx="248.4" cy="310.1" r="4.1"/><circle cx="250.1" cy="304.1" r="4.1"/><circle cx="251.9" cy="301.2" r="4.1"/><circle cx="253.6" cy="307.2" r="4.1"/><circle cx="255.3" cy="312.2" r="4.1"/><circle cx="256.2" cy="331.8" r="4.1"/><circle cx="257.9" cy="339.0" r="4.1"/><circle cx="259.7" cy="335.5" r="4.1"/><circle cx="261.4" cy="334.0" r="4.1"/><circle cx="263.1" cy="331.5" r="4.1"/><circle cx="264.9" cy="331.6" r="4.1"/><circle cx="266.6" cy="336.3" r="4.1"/><circle cx="268.3" cy="343.4" r="4.1"/><circle cx="270.1" cy="346.8" r="4.1"/><circle cx="271.8" cy="349.3" r="4.1"/><circle cx="273.5" cy="352.6" r="4.1"/><circle cx="275.3" cy="352.9" r="4.1"/><circle cx="277.0" cy="349.9" r="4.1"/><circle cx="278.7" cy="348.2" r="4.1"/><circle cx="280.5" cy="344.4" r="4.1"/><circle cx="282.2" cy="342.8" r="4.1"/><circle cx="283.9" cy="344.0" r="4.1"/><circle cx="285.7" cy="342.0" r="4.1"/><circle cx="287.4" cy="340.0" r="4.1"/><circle cx="289.1" cy="344.5" r="4.1"/><circle cx="290.9" cy="345.7" r="4.1"/><circle cx="292.6" cy="348.3" r="4.1"/><circle cx="294.3" cy="348.0" r="4.1"/><circle cx="296.1" cy="351.5" r="4.1"/><circle cx="297.8" cy="349.3" r="4.1"/><circle cx="299.5" cy="352.9" r="4.1"/><circle cx="301.3" cy="352.0" r="4.1"/><circle cx="303.0" cy="352.0" r="4.1"/><circle cx="304.7" cy="353.1" r="4.1"/><circle cx="306.5" cy="354.8" r="4.1"/><circle cx="308.2" cy="352.8" r="4.1"/><circle cx="309.9" cy="352.7" r="4.1"/><circle cx="311.7" cy="354.4" r="4.1"/><circle cx="313.4" cy="353.8" r="4.1"/><circle cx="315.1" cy="353.6" r="4.1"/><circle cx="316.9" cy="353.6" r="4.1"/><circle cx="318.6" cy="353.0" r="4.1"/><circle cx="320.3" cy="353.4" r="4.1"/><circle cx="322.1" cy="353.6" r="4.1"/><circle cx="323.8" cy="353.4" r="4.1"/><circle cx="325.5" cy="354.8" r="4.1"/><circle cx="327.3" cy="353.0" r="4.1"/><circle cx="329.0" cy="352.8" r="4.1"/><circle cx="330.7" cy="348.7" r="4.1"/><circle cx="332.5" cy="345.5" r="4.1"/><circle cx="334.2" cy="341.1" r="4.1"/><circle cx="335.9" cy="339.4" r="4.1"/><circle cx="337.7" cy="336.6" r="4.1"/><circle cx="339.4" cy="339.4" r="4.1"/><circle cx="341.1" cy="341.6" r="4.1"/><circle cx="342.9" cy="343.4" r="4.1"/><circle cx="344.6" cy="346.2" r="4.1"/><circle cx="346.3" cy="349.4" r="4.1"/><circle cx="348.1" cy="348.6" r="4.1"/><circle cx="349.8" cy="352.5" r="4.1"/></g></g><g><line x1="491.50" y1="350.67" x2="697.50" y2="350.67" stroke="#a6a6a6" stroke-width="1.5" stroke-dasharray="1.5 4.047"/><line x1="491.50" y1="346.74" x2="697.50" y2="346.74" stroke="#a6a6a6" stroke-width="1.5" stroke-dasharray="1.5 4.047"/><line x1="491.50" y1="342.81" x2="697.50" y2="342.81" stroke="#a6a6a6" stroke-width="1.5" stroke-dasharray="1.5 4.047"/><line x1="491.50" y1="338.88" x2="697.50" y2="338.88" stroke="#a6a6a6" stroke-width="1.5" stroke-dasharray="1.5 4.047"/><line x1="491.50" y1="331.02" x2="697.50" y2="331.02" stroke="#a6a6a6" stroke-width="1.5" stroke-dasharray="1.5 4.047"/><line x1="491.50" y1="327.09" x2="697.50" y2="327.09" stroke="#a6a6a6" stroke-width="1.5" stroke-dasharray="1.5 4.047"/><line x1="491.50" y1="323.16" x2="697.50" y2="323.16" stroke="#a6a6a6" stroke-width="1.5" stroke-dasharray="1.5 4.047"/><line x1="491.50" y1="319.23" x2="697.50" y2="319.23" stroke="#a6a6a6" stroke-width="1.5" stroke-dasharray="1.5 4.047"/><line x1="491.50" y1="311.37" x2="697.50" y2="311.37" stroke="#a6a6a6" stroke-width="1.5" stroke-dasharray="1.5 4.047"/><line x1="491.50" y1="307.44" x2="697.50" y2="307.44" stroke="#a6a6a6" stroke-width="1.5" stroke-dasharray="1.5 4.047"/><line x1="491.50" y1="303.51" x2="697.50" y2="303.51" stroke="#a6a6a6" stroke-width="1.5" stroke-dasharray="1.5 4.047"/><line x1="490.50" y1="354.60" x2="698.50" y2="354.60" stroke="#dcdcdc" stroke-width="1.7"/><line x1="490.50" y1="334.95" x2="698.50" y2="334.95" stroke="#dcdcdc" stroke-width="1.7"/><line x1="490.50" y1="315.30" x2="698.50" y2="315.30" stroke="#dcdcdc" stroke-width="1.7"/><line x1="532.10" y1="299.30" x2="532.10" y2="359.30" stroke="#dcdcdc" stroke-width="1.7"/><line x1="573.70" y1="299.30" x2="573.70" y2="359.30" stroke="#dcdcdc" stroke-width="1.7"/><line x1="615.30" y1="299.30" x2="615.30" y2="359.30" stroke="#dcdcdc" stroke-width="1.7"/><line x1="656.90" y1="299.30" x2="656.90" y2="359.30" stroke="#dcdcdc" stroke-width="1.7"/><line x1="490.50" y1="354.60" x2="494.30" y2="354.60" stroke="#262626" stroke-width="1.8"/><line x1="694.70" y1="354.60" x2="698.50" y2="354.60" stroke="#262626" stroke-width="1.8"/><line x1="490.50" y1="334.95" x2="494.30" y2="334.95" stroke="#262626" stroke-width="1.8"/><line x1="694.70" y1="334.95" x2="698.50" y2="334.95" stroke="#262626" stroke-width="1.8"/><line x1="490.50" y1="315.30" x2="494.30" y2="315.30" stroke="#262626" stroke-width="1.8"/><line x1="694.70" y1="315.30" x2="698.50" y2="315.30" stroke="#262626" stroke-width="1.8"/><line x1="532.10" y1="299.30" x2="532.10" y2="303.10" stroke="#262626" stroke-width="1.8"/><line x1="532.10" y1="355.50" x2="532.10" y2="359.30" stroke="#262626" stroke-width="1.8"/><line x1="573.70" y1="299.30" x2="573.70" y2="303.10" stroke="#262626" stroke-width="1.8"/><line x1="573.70" y1="355.50" x2="573.70" y2="359.30" stroke="#262626" stroke-width="1.8"/><line x1="615.30" y1="299.30" x2="615.30" y2="303.10" stroke="#262626" stroke-width="1.8"/><line x1="615.30" y1="355.50" x2="615.30" y2="359.30" stroke="#262626" stroke-width="1.8"/><line x1="656.90" y1="299.30" x2="656.90" y2="303.10" stroke="#262626" stroke-width="1.8"/><line x1="656.90" y1="355.50" x2="656.90" y2="359.30" stroke="#262626" stroke-width="1.8"/><rect x="490.50" y="299.30" width="208.00" height="60.00" fill="none" stroke="#262626" stroke-width="2.3"/><text transform="translate(454.17,361.81) scale(1.09,1)" font-size="18.3" fill="#262626">5.5</text><text transform="translate(470.93,341.86) scale(1.09,1)" font-size="18.3" fill="#262626">6</text><text transform="translate(454.17,322.31) scale(1.09,1)" font-size="18.3" fill="#262626">6.5</text><text transform="translate(445.60,383.77) rotate(-90) scale(0.9803,1)" font-size="21.29" fill="#262626">H2OMIXRA</text><g fill="none" stroke="#0072BD" stroke-width="2.1"><circle cx="526.7" cy="358.8" r="4.1"/><circle cx="528.4" cy="356.2" r="4.1"/><circle cx="530.2" cy="354.1" r="4.1"/><circle cx="531.9" cy="350.0" r="4.1"/><circle cx="533.6" cy="346.7" r="4.1"/><circle cx="535.4" cy="343.7" r="4.1"/><circle cx="537.1" cy="343.0" r="4.1"/><circle cx="538.8" cy="338.9" r="4.1"/><circle cx="540.6" cy="339.0" r="4.1"/><circle cx="542.3" cy="337.3" r="4.1"/><circle cx="544.0" cy="335.8" r="4.1"/><circle cx="545.8" cy="333.6" r="4.1"/><circle cx="547.5" cy="332.2" r="4.1"/><circle cx="549.2" cy="329.8" r="4.1"/><circle cx="551.0" cy="328.6" r="4.1"/><circle cx="552.7" cy="326.7" r="4.1"/><circle cx="554.4" cy="327.6" r="4.1"/><circle cx="556.2" cy="318.5" r="4.1"/><circle cx="557.9" cy="314.3" r="4.1"/><circle cx="559.6" cy="310.6" r="4.1"/><circle cx="561.4" cy="311.4" r="4.1"/><circle cx="563.1" cy="311.5" r="4.1"/><circle cx="564.8" cy="310.5" r="4.1"/><circle cx="566.6" cy="308.7" r="4.1"/><circle cx="568.3" cy="308.4" r="4.1"/><circle cx="570.0" cy="308.7" r="4.1"/><circle cx="571.8" cy="309.5" r="4.1"/><circle cx="573.5" cy="308.3" r="4.1"/><circle cx="575.2" cy="309.7" r="4.1"/><circle cx="577.0" cy="309.1" r="4.1"/><circle cx="578.7" cy="313.4" r="4.1"/><circle cx="580.4" cy="314.7" r="4.1"/><circle cx="582.2" cy="314.1" r="4.1"/><circle cx="583.9" cy="314.2" r="4.1"/><circle cx="585.6" cy="318.6" r="4.1"/><circle cx="587.4" cy="317.6" r="4.1"/><circle cx="589.1" cy="319.3" r="4.1"/><circle cx="590.8" cy="332.9" r="4.1"/><circle cx="592.6" cy="345.4" r="4.1"/><circle cx="594.3" cy="353.2" r="4.1"/><circle cx="596.2" cy="354.4" r="4.1"/><circle cx="597.9" cy="351.8" r="4.1"/><circle cx="599.7" cy="351.8" r="4.1"/><circle cx="601.4" cy="348.3" r="4.1"/><circle cx="603.1" cy="347.8" r="4.1"/><circle cx="604.9" cy="344.6" r="4.1"/><circle cx="606.6" cy="342.6" r="4.1"/><circle cx="608.3" cy="338.9" r="4.1"/><circle cx="610.1" cy="336.2" r="4.1"/><circle cx="611.8" cy="333.4" r="4.1"/><circle cx="613.5" cy="329.8" r="4.1"/><circle cx="615.3" cy="327.1" r="4.1"/><circle cx="617.0" cy="324.5" r="4.1"/><circle cx="618.7" cy="324.0" r="4.1"/><circle cx="620.5" cy="322.1" r="4.1"/><circle cx="622.2" cy="320.8" r="4.1"/><circle cx="623.9" cy="320.0" r="4.1"/><circle cx="625.7" cy="316.5" r="4.1"/><circle cx="627.4" cy="313.9" r="4.1"/><circle cx="629.1" cy="307.1" r="4.1"/><circle cx="630.9" cy="298.7" r="4.1"/><circle cx="630.1" cy="307.6" r="4.1"/><circle cx="631.8" cy="312.1" r="4.1"/><circle cx="633.6" cy="316.4" r="4.1"/><circle cx="635.3" cy="321.5" r="4.1"/><circle cx="637.0" cy="320.5" r="4.1"/><circle cx="638.8" cy="318.0" r="4.1"/><circle cx="640.5" cy="317.1" r="4.1"/><circle cx="642.2" cy="315.6" r="4.1"/><circle cx="644.0" cy="311.4" r="4.1"/><circle cx="645.7" cy="311.1" r="4.1"/><circle cx="647.4" cy="309.3" r="4.1"/><circle cx="649.2" cy="309.9" r="4.1"/><circle cx="650.9" cy="310.6" r="4.1"/><circle cx="652.6" cy="311.6" r="4.1"/><circle cx="654.4" cy="311.4" r="4.1"/><circle cx="656.1" cy="311.4" r="4.1"/><circle cx="657.8" cy="308.9" r="4.1"/><circle cx="659.6" cy="307.2" r="4.1"/><circle cx="661.3" cy="303.7" r="4.1"/><circle cx="663.0" cy="302.3" r="4.1"/><circle cx="664.8" cy="304.4" r="4.1"/><circle cx="666.5" cy="307.0" r="4.1"/><circle cx="668.2" cy="307.7" r="4.1"/><circle cx="670.0" cy="312.2" r="4.1"/><circle cx="671.7" cy="310.5" r="4.1"/><circle cx="673.4" cy="309.6" r="4.1"/><circle cx="675.2" cy="308.4" r="4.1"/><circle cx="676.9" cy="307.5" r="4.1"/><circle cx="678.6" cy="305.5" r="4.1"/><circle cx="680.4" cy="302.7" r="4.1"/><circle cx="682.1" cy="305.9" r="4.1"/><circle cx="683.8" cy="305.4" r="4.1"/><circle cx="685.6" cy="304.0" r="4.1"/><circle cx="687.3" cy="303.9" r="4.1"/><circle cx="689.0" cy="304.7" r="4.1"/><circle cx="690.8" cy="308.3" r="4.1"/><circle cx="692.5" cy="314.1" r="4.1"/><circle cx="542.5" cy="346.7" r="4.1"/><circle cx="623.9" cy="328.2" r="4.1"/><circle cx="591.5" cy="315.8" r="4.1"/><circle cx="593.1" cy="343.6" r="4.1"/></g></g><g><line x1="148.50" y1="482.91" x2="354.60" y2="482.91" stroke="#a6a6a6" stroke-width="1.5" stroke-dasharray="1.5 4.047"/><line x1="148.50" y1="478.92" x2="354.60" y2="478.92" stroke="#a6a6a6" stroke-width="1.5" stroke-dasharray="1.5 4.047"/><line x1="148.50" y1="474.93" x2="354.60" y2="474.93" stroke="#a6a6a6" stroke-width="1.5" stroke-dasharray="1.5 4.047"/><line x1="148.50" y1="470.94" x2="354.60" y2="470.94" stroke="#a6a6a6" stroke-width="1.5" stroke-dasharray="1.5 4.047"/><line x1="148.50" y1="462.96" x2="354.60" y2="462.96" stroke="#a6a6a6" stroke-width="1.5" stroke-dasharray="1.5 4.047"/><line x1="148.50" y1="458.97" x2="354.60" y2="458.97" stroke="#a6a6a6" stroke-width="1.5" stroke-dasharray="1.5 4.047"/><line x1="148.50" y1="454.98" x2="354.60" y2="454.98" stroke="#a6a6a6" stroke-width="1.5" stroke-dasharray="1.5 4.047"/><line x1="148.50" y1="450.99" x2="354.60" y2="450.99" stroke="#a6a6a6" stroke-width="1.5" stroke-dasharray="1.5 4.047"/><line x1="148.50" y1="443.01" x2="354.60" y2="443.01" stroke="#a6a6a6" stroke-width="1.5" stroke-dasharray="1.5 4.047"/><line x1="148.50" y1="439.02" x2="354.60" y2="439.02" stroke="#a6a6a6" stroke-width="1.5" stroke-dasharray="1.5 4.047"/><line x1="148.50" y1="435.03" x2="354.60" y2="435.03" stroke="#a6a6a6" stroke-width="1.5" stroke-dasharray="1.5 4.047"/><line x1="148.50" y1="431.04" x2="354.60" y2="431.04" stroke="#a6a6a6" stroke-width="1.5" stroke-dasharray="1.5 4.047"/><line x1="147.50" y1="466.95" x2="355.60" y2="466.95" stroke="#dcdcdc" stroke-width="1.7"/><line x1="147.50" y1="447.00" x2="355.60" y2="447.00" stroke="#dcdcdc" stroke-width="1.7"/><line x1="189.12" y1="427.30" x2="189.12" y2="487.30" stroke="#dcdcdc" stroke-width="1.7"/><line x1="230.74" y1="427.30" x2="230.74" y2="487.30" stroke="#dcdcdc" stroke-width="1.7"/><line x1="272.36" y1="427.30" x2="272.36" y2="487.30" stroke="#dcdcdc" stroke-width="1.7"/><line x1="313.98" y1="427.30" x2="313.98" y2="487.30" stroke="#dcdcdc" stroke-width="1.7"/><line x1="147.50" y1="486.90" x2="151.30" y2="486.90" stroke="#262626" stroke-width="1.8"/><line x1="351.80" y1="486.90" x2="355.60" y2="486.90" stroke="#262626" stroke-width="1.8"/><line x1="147.50" y1="466.95" x2="151.30" y2="466.95" stroke="#262626" stroke-width="1.8"/><line x1="351.80" y1="466.95" x2="355.60" y2="466.95" stroke="#262626" stroke-width="1.8"/><line x1="147.50" y1="447.00" x2="151.30" y2="447.00" stroke="#262626" stroke-width="1.8"/><line x1="351.80" y1="447.00" x2="355.60" y2="447.00" stroke="#262626" stroke-width="1.8"/><line x1="189.12" y1="427.30" x2="189.12" y2="431.10" stroke="#262626" stroke-width="1.8"/><line x1="189.12" y1="483.50" x2="189.12" y2="487.30" stroke="#262626" stroke-width="1.8"/><line x1="230.74" y1="427.30" x2="230.74" y2="431.10" stroke="#262626" stroke-width="1.8"/><line x1="230.74" y1="483.50" x2="230.74" y2="487.30" stroke="#262626" stroke-width="1.8"/><line x1="272.36" y1="427.30" x2="272.36" y2="431.10" stroke="#262626" stroke-width="1.8"/><line x1="272.36" y1="483.50" x2="272.36" y2="487.30" stroke="#262626" stroke-width="1.8"/><line x1="313.98" y1="427.30" x2="313.98" y2="431.10" stroke="#262626" stroke-width="1.8"/><line x1="313.98" y1="483.50" x2="313.98" y2="487.30" stroke="#262626" stroke-width="1.8"/><rect x="147.50" y="427.30" width="208.10" height="60.00" fill="none" stroke="#262626" stroke-width="2.3"/><text transform="translate(127.33,492.71) scale(1.09,1)" font-size="18.3" fill="#262626">0</text><text transform="translate(105.19,473.21) scale(1.09,1)" font-size="18.3" fill="#262626">100</text><text transform="translate(105.19,453.31) scale(1.09,1)" font-size="18.3" fill="#262626">200</text><text transform="translate(85.60,500.48) rotate(-90) scale(0.9941,1)" font-size="18.99" fill="#262626">TERR<tspan font-size="16.20" dy="10.00">M</tspan><tspan dy="-10.00" font-size="18.99">SL</tspan></text><g fill="none" stroke="#0072BD" stroke-width="2.1"><circle cx="184.6" cy="485.6" r="4.1"/><circle cx="186.3" cy="485.6" r="4.1"/><circle cx="188.1" cy="485.6" r="4.1"/><circle cx="189.8" cy="485.6" r="4.1"/><circle cx="191.5" cy="485.6" r="4.1"/><circle cx="193.3" cy="485.6" r="4.1"/><circle cx="195.0" cy="485.6" r="4.1"/><circle cx="196.7" cy="485.6" r="4.1"/><circle cx="198.5" cy="485.6" r="4.1"/><circle cx="200.2" cy="485.6" r="4.1"/><circle cx="201.9" cy="485.6" r="4.1"/><circle cx="203.7" cy="485.6" r="4.1"/><circle cx="205.4" cy="485.6" r="4.1"/><circle cx="207.1" cy="485.6" r="4.1"/><circle cx="208.9" cy="485.6" r="4.1"/><circle cx="210.6" cy="485.6" r="4.1"/><circle cx="212.3" cy="485.6" r="4.1"/><circle cx="214.1" cy="485.6" r="4.1"/><circle cx="215.8" cy="485.6" r="4.1"/><circle cx="217.5" cy="485.6" r="4.1"/><circle cx="219.3" cy="485.6" r="4.1"/><circle cx="221.0" cy="485.6" r="4.1"/><circle cx="222.7" cy="485.6" r="4.1"/><circle cx="224.5" cy="485.6" r="4.1"/><circle cx="226.2" cy="485.6" r="4.1"/><circle cx="227.9" cy="485.6" r="4.1"/><circle cx="229.7" cy="485.6" r="4.1"/><circle cx="231.4" cy="485.6" r="4.1"/><circle cx="233.1" cy="485.6" r="4.1"/><circle cx="234.9" cy="485.6" r="4.1"/><circle cx="236.6" cy="485.6" r="4.1"/><circle cx="238.3" cy="485.6" r="4.1"/><circle cx="240.1" cy="485.6" r="4.1"/><circle cx="241.8" cy="485.6" r="4.1"/><circle cx="243.5" cy="485.6" r="4.1"/><circle cx="245.3" cy="485.6" r="4.1"/><circle cx="247.0" cy="485.6" r="4.1"/><circle cx="248.7" cy="485.6" r="4.1"/><circle cx="250.5" cy="485.6" r="4.1"/><circle cx="252.2" cy="485.6" r="4.1"/><circle cx="253.9" cy="485.6" r="4.1"/><circle cx="255.7" cy="485.6" r="4.1"/><circle cx="257.4" cy="485.6" r="4.1"/><circle cx="259.1" cy="485.6" r="4.1"/><circle cx="260.9" cy="485.6" r="4.1"/><circle cx="262.6" cy="485.6" r="4.1"/><circle cx="264.3" cy="485.6" r="4.1"/><circle cx="266.1" cy="485.6" r="4.1"/><circle cx="267.8" cy="485.6" r="4.1"/><circle cx="269.5" cy="485.6" r="4.1"/><circle cx="271.3" cy="485.6" r="4.1"/><circle cx="273.0" cy="485.6" r="4.1"/><circle cx="274.7" cy="485.6" r="4.1"/><circle cx="276.5" cy="485.6" r="4.1"/><circle cx="278.2" cy="485.6" r="4.1"/><circle cx="279.9" cy="485.6" r="4.1"/><circle cx="281.7" cy="485.6" r="4.1"/><circle cx="283.4" cy="485.6" r="4.1"/><circle cx="285.1" cy="485.6" r="4.1"/><circle cx="286.9" cy="485.6" r="4.1"/><circle cx="288.6" cy="485.6" r="4.1"/><circle cx="290.3" cy="485.6" r="4.1"/><circle cx="292.1" cy="485.6" r="4.1"/><circle cx="293.8" cy="485.6" r="4.1"/><circle cx="295.5" cy="485.6" r="4.1"/><circle cx="297.3" cy="485.6" r="4.1"/><circle cx="299.0" cy="485.6" r="4.1"/><circle cx="300.7" cy="485.6" r="4.1"/><circle cx="302.5" cy="485.6" r="4.1"/><circle cx="304.2" cy="485.6" r="4.1"/><circle cx="305.9" cy="485.6" r="4.1"/><circle cx="307.7" cy="485.6" r="4.1"/><circle cx="309.4" cy="485.6" r="4.1"/><circle cx="311.1" cy="485.6" r="4.1"/><circle cx="312.9" cy="485.6" r="4.1"/><circle cx="314.6" cy="485.6" r="4.1"/><circle cx="316.3" cy="485.6" r="4.1"/><circle cx="318.1" cy="485.6" r="4.1"/><circle cx="319.8" cy="485.6" r="4.1"/><circle cx="321.5" cy="485.6" r="4.1"/><circle cx="323.3" cy="485.6" r="4.1"/><circle cx="325.0" cy="485.6" r="4.1"/><circle cx="326.7" cy="485.6" r="4.1"/><circle cx="328.5" cy="485.6" r="4.1"/><circle cx="330.2" cy="485.6" r="4.1"/><circle cx="331.9" cy="485.6" r="4.1"/><circle cx="333.7" cy="485.6" r="4.1"/><circle cx="227.5" cy="477.0" r="4.1"/><circle cx="229.2" cy="474.7" r="4.1"/><circle cx="231.0" cy="474.2" r="4.1"/><circle cx="232.7" cy="475.2" r="4.1"/><circle cx="234.4" cy="473.9" r="4.1"/><circle cx="236.2" cy="472.6" r="4.1"/><circle cx="237.9" cy="471.2" r="4.1"/><circle cx="239.6" cy="471.7" r="4.1"/><circle cx="241.4" cy="471.4" r="4.1"/><circle cx="243.1" cy="469.8" r="4.1"/><circle cx="244.8" cy="471.5" r="4.1"/><circle cx="246.6" cy="470.1" r="4.1"/><circle cx="248.3" cy="473.8" r="4.1"/><circle cx="250.0" cy="474.1" r="4.1"/><circle cx="251.8" cy="476.5" r="4.1"/><circle cx="253.5" cy="477.5" r="4.1"/><circle cx="255.2" cy="477.7" r="4.1"/><circle cx="257.0" cy="478.4" r="4.1"/><circle cx="258.7" cy="481.6" r="4.1"/><circle cx="263.0" cy="479.6" r="4.1"/><circle cx="264.7" cy="479.8" r="4.1"/><circle cx="266.5" cy="478.7" r="4.1"/><circle cx="268.2" cy="477.1" r="4.1"/><circle cx="269.9" cy="476.9" r="4.1"/><circle cx="271.7" cy="476.0" r="4.1"/><circle cx="273.4" cy="472.4" r="4.1"/><circle cx="275.1" cy="473.0" r="4.1"/><circle cx="276.9" cy="472.4" r="4.1"/><circle cx="278.6" cy="475.5" r="4.1"/><circle cx="280.3" cy="477.0" r="4.1"/><circle cx="282.1" cy="478.7" r="4.1"/><circle cx="283.8" cy="481.2" r="4.1"/><circle cx="311.8" cy="469.4" r="4.1"/><circle cx="313.5" cy="473.5" r="4.1"/><circle cx="315.3" cy="473.6" r="4.1"/><circle cx="317.0" cy="474.3" r="4.1"/><circle cx="318.7" cy="478.5" r="4.1"/><circle cx="320.5" cy="480.4" r="4.1"/><circle cx="322.2" cy="480.9" r="4.1"/><circle cx="334.4" cy="473.4" r="4.1"/><circle cx="336.1" cy="467.1" r="4.1"/><circle cx="337.9" cy="461.1" r="4.1"/><circle cx="339.6" cy="455.8" r="4.1"/><circle cx="341.3" cy="449.4" r="4.1"/><circle cx="343.1" cy="445.8" r="4.1"/><circle cx="344.8" cy="441.6" r="4.1"/><circle cx="346.5" cy="438.4" r="4.1"/><circle cx="348.3" cy="436.7" r="4.1"/><circle cx="350.0" cy="430.0" r="4.1"/><circle cx="342.8" cy="440.0" r="4.1"/><circle cx="228.8" cy="475.7" r="4.1"/></g></g><g><line x1="491.50" y1="477.30" x2="697.50" y2="477.30" stroke="#a6a6a6" stroke-width="1.5" stroke-dasharray="1.5 4.047"/><line x1="491.50" y1="468.10" x2="697.50" y2="468.10" stroke="#a6a6a6" stroke-width="1.5" stroke-dasharray="1.5 4.047"/><line x1="491.50" y1="458.90" x2="697.50" y2="458.90" stroke="#a6a6a6" stroke-width="1.5" stroke-dasharray="1.5 4.047"/><line x1="491.50" y1="449.70" x2="697.50" y2="449.70" stroke="#a6a6a6" stroke-width="1.5" stroke-dasharray="1.5 4.047"/><line x1="491.50" y1="431.30" x2="697.50" y2="431.30" stroke="#a6a6a6" stroke-width="1.5" stroke-dasharray="1.5 4.047"/><line x1="490.50" y1="440.50" x2="698.50" y2="440.50" stroke="#dcdcdc" stroke-width="1.7"/><line x1="532.10" y1="427.30" x2="532.10" y2="487.30" stroke="#dcdcdc" stroke-width="1.7"/><line x1="573.70" y1="427.30" x2="573.70" y2="487.30" stroke="#dcdcdc" stroke-width="1.7"/><line x1="615.30" y1="427.30" x2="615.30" y2="487.30" stroke="#dcdcdc" stroke-width="1.7"/><line x1="656.90" y1="427.30" x2="656.90" y2="487.30" stroke="#dcdcdc" stroke-width="1.7"/><line x1="490.50" y1="486.50" x2="494.30" y2="486.50" stroke="#262626" stroke-width="1.8"/><line x1="694.70" y1="486.50" x2="698.50" y2="486.50" stroke="#262626" stroke-width="1.8"/><line x1="490.50" y1="440.50" x2="494.30" y2="440.50" stroke="#262626" stroke-width="1.8"/><line x1="694.70" y1="440.50" x2="698.50" y2="440.50" stroke="#262626" stroke-width="1.8"/><line x1="532.10" y1="427.30" x2="532.10" y2="431.10" stroke="#262626" stroke-width="1.8"/><line x1="532.10" y1="483.50" x2="532.10" y2="487.30" stroke="#262626" stroke-width="1.8"/><line x1="573.70" y1="427.30" x2="573.70" y2="431.10" stroke="#262626" stroke-width="1.8"/><line x1="573.70" y1="483.50" x2="573.70" y2="487.30" stroke="#262626" stroke-width="1.8"/><line x1="615.30" y1="427.30" x2="615.30" y2="431.10" stroke="#262626" stroke-width="1.8"/><line x1="615.30" y1="483.50" x2="615.30" y2="487.30" stroke="#262626" stroke-width="1.8"/><line x1="656.90" y1="427.30" x2="656.90" y2="431.10" stroke="#262626" stroke-width="1.8"/><line x1="656.90" y1="483.50" x2="656.90" y2="487.30" stroke="#262626" stroke-width="1.8"/><rect x="490.50" y="427.30" width="208.00" height="60.00" fill="none" stroke="#262626" stroke-width="2.3"/><text transform="translate(470.73,493.91) scale(1.09,1)" font-size="18.3" fill="#262626">0</text><text transform="translate(448.59,447.71) scale(1.09,1)" font-size="18.3" fill="#262626">500</text><text transform="translate(398.80,503.42) rotate(-90) scale(0.9941,1)" font-size="20.43" fill="#262626">SUN<tspan font-size="16.20" dy="8.50">F</tspan><tspan dy="-8.50" font-size="20.43">LUX</tspan></text><g fill="none" stroke="#0072BD" stroke-width="2.1"><circle cx="524.5" cy="481.0" r="4.1"/><circle cx="526.2" cy="482.7" r="4.1"/><circle cx="528.0" cy="484.5" r="4.1"/><circle cx="529.7" cy="485.1" r="4.1"/><circle cx="531.4" cy="485.8" r="4.1"/><circle cx="533.2" cy="486.3" r="4.1"/><circle cx="534.9" cy="486.3" r="4.1"/><circle cx="536.6" cy="486.3" r="4.1"/><circle cx="538.4" cy="486.3" r="4.1"/><circle cx="540.1" cy="486.3" r="4.1"/><circle cx="541.8" cy="486.3" r="4.1"/><circle cx="543.6" cy="486.3" r="4.1"/><circle cx="545.4" cy="478.6" r="4.1"/><circle cx="547.1" cy="474.5" r="4.1"/><circle cx="548.9" cy="471.4" r="4.1"/><circle cx="550.6" cy="465.3" r="4.1"/><circle cx="552.3" cy="457.3" r="4.1"/><circle cx="554.1" cy="441.0" r="4.1"/><circle cx="555.8" cy="436.1" r="4.1"/><circle cx="557.5" cy="428.3" r="4.1"/><circle cx="559.3" cy="434.8" r="4.1"/><circle cx="561.0" cy="438.7" r="4.1"/><circle cx="562.7" cy="444.0" r="4.1"/><circle cx="564.5" cy="459.6" r="4.1"/><circle cx="566.2" cy="473.4" r="4.1"/><circle cx="569.0" cy="487.0" r="4.1"/><circle cx="570.7" cy="487.0" r="4.1"/><circle cx="572.5" cy="487.0" r="4.1"/><circle cx="574.2" cy="487.0" r="4.1"/><circle cx="575.9" cy="487.0" r="4.1"/><circle cx="577.7" cy="487.0" r="4.1"/><circle cx="579.4" cy="487.0" r="4.1"/><circle cx="581.1" cy="487.0" r="4.1"/><circle cx="582.9" cy="487.0" r="4.1"/><circle cx="584.6" cy="487.0" r="4.1"/><circle cx="586.5" cy="476.7" r="4.1"/><circle cx="588.2" cy="462.4" r="4.1"/><circle cx="590.0" cy="454.0" r="4.1"/><circle cx="591.7" cy="450.5" r="4.1"/><circle cx="593.4" cy="449.3" r="4.1"/><circle cx="595.2" cy="448.7" r="4.1"/><circle cx="596.9" cy="448.1" r="4.1"/><circle cx="598.6" cy="454.6" r="4.1"/><circle cx="600.4" cy="460.4" r="4.1"/><circle cx="602.1" cy="464.0" r="4.1"/><circle cx="603.8" cy="462.9" r="4.1"/><circle cx="605.6" cy="461.9" r="4.1"/><circle cx="607.3" cy="467.7" r="4.1"/><circle cx="610.5" cy="486.5" r="4.1"/><circle cx="612.2" cy="486.5" r="4.1"/><circle cx="614.0" cy="486.5" r="4.1"/><circle cx="615.7" cy="486.5" r="4.1"/><circle cx="617.4" cy="486.5" r="4.1"/><circle cx="619.2" cy="486.5" r="4.1"/><circle cx="620.9" cy="486.5" r="4.1"/><circle cx="622.6" cy="486.5" r="4.1"/><circle cx="624.4" cy="486.5" r="4.1"/><circle cx="627.7" cy="475.2" r="4.1"/><circle cx="629.4" cy="463.1" r="4.1"/><circle cx="631.2" cy="452.9" r="4.1"/><circle cx="632.9" cy="449.4" r="4.1"/><circle cx="634.6" cy="445.9" r="4.1"/><circle cx="636.4" cy="445.2" r="4.1"/><circle cx="638.1" cy="446.9" r="4.1"/><circle cx="639.8" cy="448.6" r="4.1"/><circle cx="641.6" cy="452.3" r="4.1"/><circle cx="643.3" cy="457.5" r="4.1"/><circle cx="645.0" cy="462.8" r="4.1"/><circle cx="646.8" cy="467.9" r="4.1"/><circle cx="648.5" cy="474.9" r="4.1"/><circle cx="652.3" cy="486.7" r="4.1"/><circle cx="654.0" cy="486.7" r="4.1"/><circle cx="655.8" cy="486.7" r="4.1"/><circle cx="657.5" cy="486.7" r="4.1"/><circle cx="659.2" cy="486.7" r="4.1"/><circle cx="661.0" cy="486.7" r="4.1"/><circle cx="662.7" cy="486.7" r="4.1"/><circle cx="664.4" cy="486.7" r="4.1"/><circle cx="666.2" cy="486.7" r="4.1"/><circle cx="669.4" cy="477.2" r="4.1"/><circle cx="671.1" cy="467.1" r="4.1"/><circle cx="672.9" cy="462.2" r="4.1"/><circle cx="674.6" cy="458.7" r="4.1"/><circle cx="676.3" cy="456.7" r="4.1"/><circle cx="678.1" cy="455.6" r="4.1"/><circle cx="679.8" cy="458.0" r="4.1"/><circle cx="681.5" cy="460.3" r="4.1"/><circle cx="683.3" cy="463.6" r="4.1"/><circle cx="685.0" cy="467.1" r="4.1"/><circle cx="686.7" cy="471.2" r="4.1"/><circle cx="688.5" cy="475.0" r="4.1"/><circle cx="690.2" cy="478.5" r="4.1"/><circle cx="691.9" cy="482.4" r="4.1"/><circle cx="552.8" cy="455.2" r="4.1"/><circle cx="551.0" cy="463.2" r="4.1"/><circle cx="564.5" cy="460.0" r="4.1"/><circle cx="566.4" cy="475.0" r="4.1"/><circle cx="629.3" cy="464.4" r="4.1"/><circle cx="627.7" cy="475.2" r="4.1"/></g></g><text transform="translate(124.12,545.46) rotate(-45) scale(1.1466,1)" font-size="18.3" fill="#262626">09/10</text><text transform="translate(165.72,545.49) rotate(-45) scale(1.1907,1)" font-size="18.3" fill="#262626">09/11</text><text transform="translate(207.36,545.47) rotate(-45) scale(1.1513,1)" font-size="18.3" fill="#262626">09/12</text><text transform="translate(248.98,545.47) rotate(-45) scale(1.1513,1)" font-size="18.3" fill="#262626">09/13</text><text transform="translate(290.61,545.46) rotate(-45) scale(1.1419,1)" font-size="18.3" fill="#262626">09/14</text><text transform="translate(332.22,545.46) rotate(-45) scale(1.1466,1)" font-size="18.3" fill="#262626">09/15</text><text transform="translate(467.12,545.46) rotate(-45) scale(1.1466,1)" font-size="18.3" fill="#262626">09/10</text><text transform="translate(508.70,545.49) rotate(-45) scale(1.1907,1)" font-size="18.3" fill="#262626">09/11</text><text transform="translate(550.32,545.47) rotate(-45) scale(1.1513,1)" font-size="18.3" fill="#262626">09/12</text><text transform="translate(591.92,545.47) rotate(-45) scale(1.1513,1)" font-size="18.3" fill="#262626">09/13</text><text transform="translate(633.53,545.46) rotate(-45) scale(1.1419,1)" font-size="18.3" fill="#262626">09/14</text><text transform="translate(675.12,545.46) rotate(-45) scale(1.1466,1)" font-size="18.3" fill="#262626">09/15</text><text transform="translate(226.15,575.90) scale(1.1432,1)" font-size="19.72" fill="#262626">Time</text><text transform="translate(570.06,576.20) scale(1.0785,1)" font-size="20.56" fill="#262626">Time</text><text transform="translate(186.15,31.10) scale(1.0729,1)" font-size="20.58" font-weight="bold" fill="#000">Figure 1 low</text></svg>
</body></html>
